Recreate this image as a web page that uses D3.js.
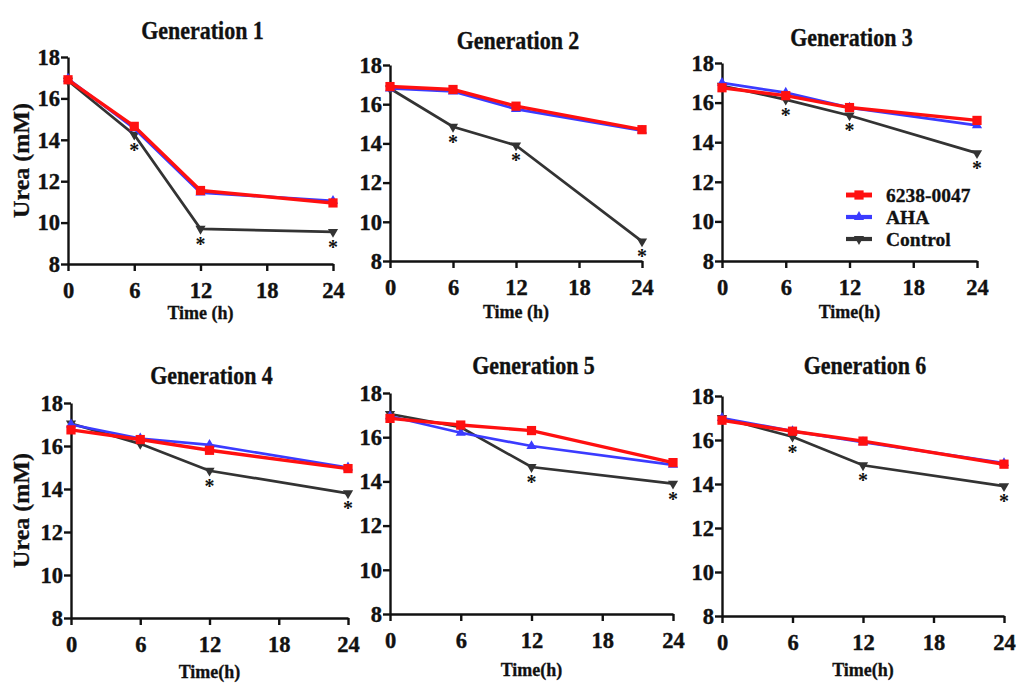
<!DOCTYPE html>
<html>
<head>
<meta charset="utf-8">
<script src="https://cdn.jsdelivr.net/npm/d3@7"></script>
<style>
  body { margin: 0; background: #fff; }
  svg { font-family: "Liberation Serif", "Times New Roman", serif; font-weight: bold; }
</style>
</head>
<body>
<svg width="1017" height="684"></svg>
<script>
// data
const times = [0, 6, 12, 24];
const xTicks = [0, 6, 12, 18, 24];
const yTicks = [8, 10, 12, 14, 16, 18];
const titles = ["Generation 1", "Generation 2", "Generation 3", "Generation 4", "Generation 5", "Generation 6"];
const xLabels = ["Time (h)", "Time (h)", "Time(h)", "Time(h)", "Time(h)", "Time(h)"];
const seriesNames = ["6238-0047", "AHA", "Control"];

const drug = [
    [16.9, 14.65, 11.55, 10.95],
    [16.9, 16.75, 15.9, 14.7],
    [16.75, 16.35, 15.75, 15.1],
    [16.75, 16.3, 15.8, 14.95],
    [16.85, 16.55, 16.3, 14.85],
    [16.9, 16.4, 15.95, 14.9]
];
const aha = [
    [16.95, 14.55, 11.45, 11.05],
    [16.8, 16.65, 15.75, 14.65],
    [17.0, 16.5, 15.75, 14.85],
    [17.0, 16.35, 16.05, 15.0],
    [16.95, 16.2, 15.6, 14.75],
    [17.0, 16.4, 15.9, 14.95]
];
const control = [
    [16.85, 14.25, 9.7, 9.55],
    [16.8, 14.85, 13.9, 9.0],
    [16.85, 16.15, 15.35, 13.45],
    [17.05, 16.1, 14.85, 13.8],
    [17.05, 16.45, 14.65, 13.9],
    [17.0, 16.15, 14.85, 13.9]
];
// time points of the control series marked with *
const stars = [
    [6, 12, 24],
    [6, 12, 24],
    [6, 12, 24],
    [12, 24],
    [12, 24],
    [6, 12, 24]
];

// panel boxes in pixels (plot area)
const layout = [
    {x0: 68,  x1: 333,  y0: 57,  y1: 264, ty: 30,  ly: 313, ylab: true},
    {x0: 390, x1: 642,  y0: 65,  y1: 261, ty: 40,  ly: 312},
    {x0: 722, x1: 977,  y0: 63,  y1: 261, ty: 37,  ly: 312},
    {x0: 71,  x1: 348,  y0: 403, y1: 618, ty: 375, ly: 672, ylab: true},
    {x0: 390, x1: 673,  y0: 393, y1: 614, ty: 365, ly: 670},
    {x0: 722, x1: 1004, y0: 396, y1: 616, ty: 365, ly: 670}
];

const SY = 1.15;  // titles in the original are stretched vertically
const colors = ["#ff1010", "#3b3bff", "#333333"];
const widths = [3.4, 2.7, 2.7];
const symbols = [d3.symbolSquare, d3.symbolTriangle, d3.symbolTriangle];

const svg = d3.select("svg");

function drawMarker(g, k, x, y) {
    const size = k === 0 ? 85 : 45;
    g.append("path")
        .attr("d", d3.symbol().type(symbols[k]).size(size)())
        .attr("transform", `translate(${x},${y})` + (k === 2 ? " rotate(180)" : ""))
        .attr("fill", colors[k]);
}

function label(g, x, y, size, str, anchor, rot, sy) {
    return g.append("text")
        .attr("transform", `translate(${x},${y})` + (rot ? ` rotate(${rot})` : "") + ` scale(1,${sy || 1})`)
        .attr("dy", "0.35em")
        .attr("text-anchor", anchor || "middle")
        .attr("font-size", size)
        .attr("fill", "#111")
        .attr("stroke", "#111")
        .attr("stroke-width", 0.3)
        .text(str);
}

layout.forEach((L, i) => {
    const g = svg.append("g");
    const x = d3.scaleLinear().domain([0, 24]).range([L.x0, L.x1]);
    const y = d3.scaleLinear().domain([8, 18]).range([L.y1, L.y0]);

    const xAxis = g.append("g")
        .attr("transform", `translate(0,${L.y1})`)
        .call(d3.axisBottom(x).tickValues(xTicks).tickSize(7).tickPadding(11).tickSizeOuter(0));
    const yAxis = g.append("g")
        .attr("transform", `translate(${L.x0},0)`)
        .call(d3.axisLeft(y).tickValues(yTicks).tickSize(7).tickPadding(1).tickSizeOuter(0));
    [xAxis, yAxis].forEach(a => {
        a.selectAll("path, line").attr("stroke", "#111").attr("stroke-width", 2.4);
        a.selectAll("text").attr("font-size", 22.5).attr("font-family", "Liberation Serif")
            .attr("font-weight", "bold").attr("fill", "#111")
            .attr("stroke", "#111").attr("stroke-width", 0.4);
    });

    label(g, (L.x0 + L.x1) / 2 + 2, L.ty, 22, titles[i], "middle", 0, SY);
    label(g, (L.x0 + L.x1) / 2, L.ly, 18, xLabels[i]);
    if (L.ylab) label(g, 21, (L.y0 + L.y1) / 2, 24, "Urea (mM)", "middle", -90);

    const line = d3.line().x((d, j) => x(times[j])).y(d => y(d));
    const sets = [drug[i], aha[i], control[i]];
    // draw control first, then AHA, then drug on top
    [2, 1, 0].forEach(k => {
        g.append("path")
            .attr("d", line(sets[k]))
            .attr("fill", "none")
            .attr("stroke", colors[k])
            .attr("stroke-width", widths[k]);
        sets[k].forEach((v, j) => drawMarker(g, k, x(times[j]), y(v)));
    });

    stars[i].forEach(t => {
        const j = times.indexOf(t);
        g.append("text")
            .attr("x", x(t))
            .attr("y", y(control[i][j]) + 22)
            .attr("text-anchor", "middle")
            .attr("font-size", 20)
            .attr("fill", "#111")
            .text("*");
    });
});

// legend inside Generation 3
const legend = svg.append("g");
const legendY = [195, 217, 239];
seriesNames.forEach((name, k) => {
    const ly = legendY[k];
    legend.append("line")
        .attr("x1", 846).attr("x2", 872)
        .attr("y1", ly).attr("y2", ly)
        .attr("stroke", colors[k])
        .attr("stroke-width", widths[k] + 1.5);
    drawMarker(legend, k, 859, ly);
    label(legend, 886, ly, 19.5, name, "start");
});
</script>
</body>
</html>
